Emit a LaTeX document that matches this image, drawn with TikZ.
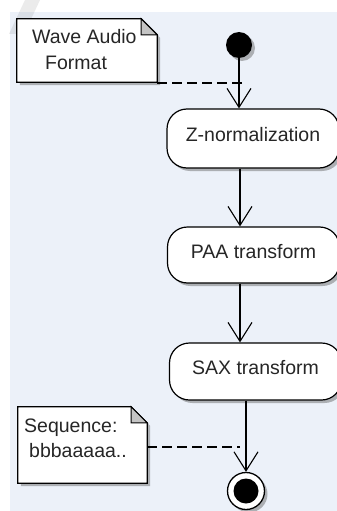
\documentclass[tikz,border=0pt]{standalone}
\usepackage{fontspec}
\setmainfont{Liberation Sans}
\usetikzlibrary{arrows.meta,shadows,calc}
\definecolor{bgblue}{RGB}{236,241,249}
\definecolor{foldgray}{RGB}{196,196,196}
\begin{document}
\begin{tikzpicture}[x=1pt,y=-1pt,
  txt/.style={font=\fontsize{19.5}{25.7}\selectfont, inner sep=0pt, text=black!85},
  shade3/.style={drop shadow={shadow xshift=3pt, shadow yshift=-3pt, opacity=0.4, fill=black!70}},
  action/.style={draw=black, line width=1.2pt, fill=white, rounded corners=20pt,
    minimum width=172pt, inner sep=0pt, text height=14pt, text depth=8pt,
    font=\fontsize{19.5}{25.7}\selectfont, text=black!85, shade3},
  notebody/.style={inner sep=0pt},
  noteshape/.style={draw=black, line width=1.2pt, fill=white, shade3},
  flow/.style={line width=1.1pt, -{Straight Barb[length=19pt,width=24pt,line width=1.1pt]}},
  link/.style={line width=1.2pt, dash pattern=on 10pt off 5pt}
]
\useasboundingbox (0,0) rectangle (337,511);
\clip (0,0) rectangle (337,511);
% background
\fill[white] (0,0) rectangle (337,511);
\fill[bgblue] (10,12) rectangle (337,511);
\fill[black, opacity=0.08] (25,0) -- (40,0) -- (24,34) -- (9,34) -- cycle;

% note: Wave Audio Format
\node[notebody, minimum width=140pt, minimum height=63pt] (wave) at (87,50.5) {};
\filldraw[noteshape] (wave.north west) -- ([xshift=-16pt]wave.north east)
  -- ([yshift=-16pt]wave.north east) -- (wave.south east) -- (wave.south west) -- cycle;
\filldraw[fill=foldgray, draw=black, line width=1pt] ([xshift=-16pt]wave.north east)
  -- ([xshift=-16pt,yshift=-16pt]wave.north east) -- ([yshift=-16pt]wave.north east) -- cycle;
\node[txt, anchor=base west] (wavet1) at (32,44) {Wave Audio};
\node[txt, anchor=base west] (wavet2) at (45,70) {Format};

% note: Sequence
\node[notebody, minimum width=129pt, minimum height=76pt] (seq) at (82.5,445) {};
\filldraw[noteshape] (seq.north west) -- ([xshift=-16pt]seq.north east)
  -- ([yshift=-16pt]seq.north east) -- (seq.south east) -- (seq.south west) -- cycle;
\filldraw[fill=foldgray, draw=black, line width=1pt] ([xshift=-16pt]seq.north east)
  -- ([xshift=-16pt,yshift=-16pt]seq.north east) -- ([yshift=-16pt]seq.north east) -- cycle;
\node[txt, anchor=base west] (seqt1) at (24,432) {Sequence:};
\node[txt, anchor=base west] (seqt2) at (29,457) {bbbaaaaa..};

% start / end
\node[circle, fill=black, minimum size=26pt, inner sep=0pt, shade3] (start) at (239,45) {};
\node[circle, draw=black, line width=1.3pt, fill=white, minimum size=37pt, inner sep=0pt, shade3,
  path picture={\fill[black] (path picture bounding box.center) circle (12.5pt);}] (endc) at (246,491) {};

% actions
\node[action, minimum height=59pt] (Z) at (253,138.5) {Z-normalization};
\node[action, minimum height=56pt] (PAA) at (253.5,255) {PAA transform};
\node[action, minimum height=57pt] (SAX) at (255.5,371.5) {SAX transform};

% control flow
\draw[flow] (start) -- (start |- Z.north);
\draw[flow] ($(Z.south -| start)+(1,0)$) -- ($(PAA.north -| start)+(1,0)$);
\draw[flow] ($(PAA.south -| start)+(1,0)$) -- ($(SAX.north -| start)+(1,0)$);
\draw[flow] (SAX.south -| endc) -- (endc);

% note links
\coordinate (wavehit) at (243,83);
\coordinate (seqhit) at (240,447);
\draw[link] (wave.south east |- wavehit) -- (wavehit);
\draw[link] (seq.east |- seqhit) -- (seqhit);
\end{tikzpicture}
\end{document}
